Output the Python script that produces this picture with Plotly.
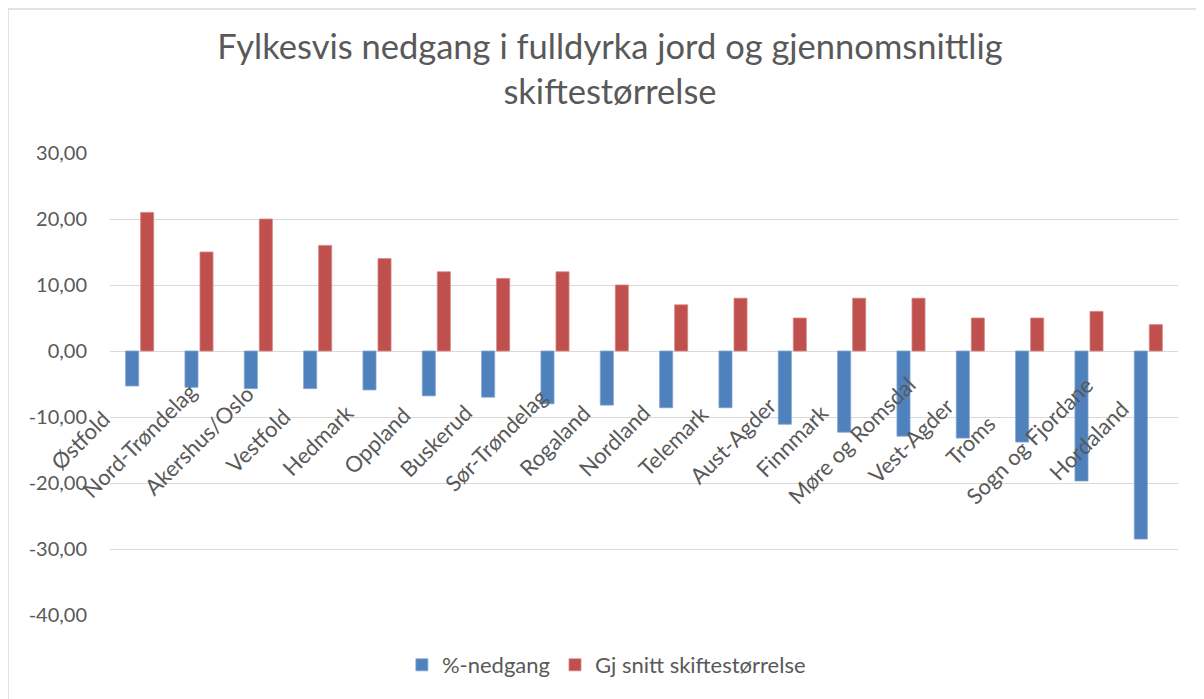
import plotly.graph_objects as go

# Fylker (categories)
fylker = ["Østfold", "Nord-Trøndelag", "Akershus/Oslo", "Vestfold", "Hedmark",
          "Oppland", "Buskerud", "Sør-Trøndelag", "Rogaland", "Nordland",
          "Telemark", "Aust-Agder", "Finnmark", "Møre og Romsdal", "Vest-Agder",
          "Troms", "Sogn og Fjordane", "Hordaland"]

# %-nedgang i fulldyrka jord
nedgang = [-5.3, -5.5, -5.7, -5.7, -5.9, -6.8, -7.0, -8.0, -8.2, -8.6,
           -8.6, -11.1, -12.3, -12.9, -13.2, -13.8, -19.7, -28.5]

# gjennomsnittlig skiftestørrelse
skifte = [21, 15, 20, 16, 14, 12, 11, 12, 10, 7, 8, 5, 8, 8, 5, 5, 6, 4]

y_ticks = [-40, -30, -20, -10, 0, 10, 20, 30]
y_ticktext = ["-40,00", "-30,00", "-20,00", "-10,00", "0,00", "10,00", "20,00", "30,00"]

FONT = "Lato"
TXT = "#595959"
GRID = "#d9d9d9"

fig = go.Figure()
fig.add_trace(go.Bar(x=fylker, y=nedgang, name="%-nedgang",
                     marker=dict(color="#4f81bd", line=dict(color="#7fa3d0", width=0.8))))
fig.add_trace(go.Bar(x=fylker, y=skifte, name="Gj snitt skiftestørrelse",
                     marker=dict(color="#c0504d", line=dict(color="#d68583", width=0.8))))

# rotated category labels, centred left-below each category like Excel does
for name in fylker:
    fig.add_annotation(x=name, y=0, xref="x", yref="y", text=name, showarrow=False,
                       textangle=-45, xanchor="center", yanchor="middle",
                       xshift=-60, yshift=-89,
                       font=dict(family=FONT, size=22, color=TXT))

# chart frame (left + top edge visible)
fig.add_shape(type="rect", xref="paper", yref="paper",
              x0=-0.0955, x1=1.2, y0=-0.4, y1=1.3117,
              line=dict(color=GRID, width=1.5), fillcolor="rgba(0,0,0,0)")

fig.update_layout(
    width=1204, height=699,
    paper_bgcolor="white", plot_bgcolor="white",
    margin=dict(l=102, r=34, t=145, b=92, autoexpand=False),
    barmode="group", bargap=0.494, bargroupgap=0.13,
    title=dict(text="Fylkesvis nedgang i fulldyrka jord og gjennomsnittlig<br>skiftestørrelse",
               x=0.5, xanchor="center", y=1 - 51 / 699, yanchor="top",
               font=dict(family=FONT, size=34.5, color=TXT)),
    font=dict(family=FONT, color=TXT),
    legend=dict(orientation="h", xref="container", yref="container",
                x=0.497, xanchor="center", y=1 - 657 / 699, yanchor="middle",
                font=dict(family=FONT, size=22, color=TXT),
                itemwidth=30, traceorder="normal"),
    showlegend=True,
)
fig.update_xaxes(showticklabels=False, showgrid=False, showline=False, zeroline=False,
                 range=[-0.5, len(fylker) - 0.5])
fig.update_yaxes(range=[-40, 30], tickvals=y_ticks, ticktext=y_ticktext,
                 showgrid=True, gridcolor=GRID, gridwidth=1.3,
                 zeroline=True, zerolinecolor=GRID, zerolinewidth=1.3,
                 showline=False, ticklabelstandoff=22,
                 tickfont=dict(family=FONT, size=20, color=TXT))

fig.write_html("out.html")
